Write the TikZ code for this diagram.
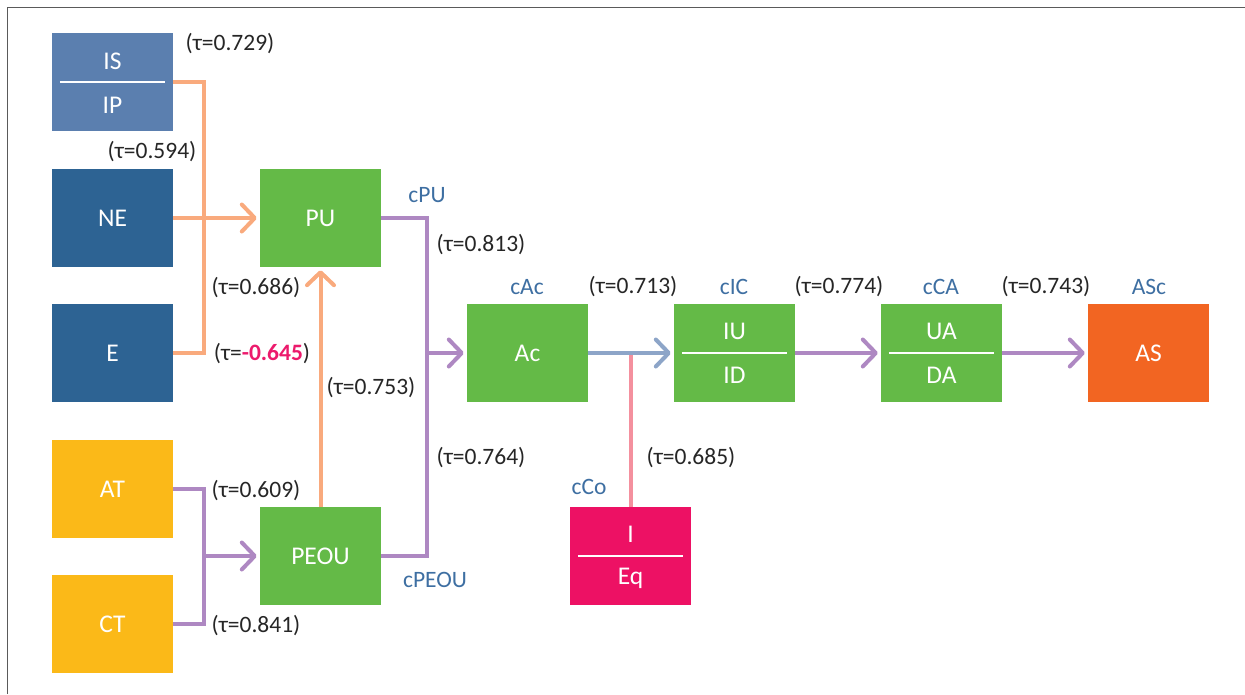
\documentclass[tikz,border=0pt]{standalone}
\usepackage{fontspec}
\setmainfont{Carlito}
\usetikzlibrary{arrows.meta}
\definecolor{bLight}{HTML}{5B7FAF}
\definecolor{bDark}{HTML}{2D6393}
\definecolor{yel}{HTML}{FBB918}
\definecolor{grn}{HTML}{64BA47}
\definecolor{org}{HTML}{F26522}
\definecolor{mag}{HTML}{ED1164}
\definecolor{lOrange}{HTML}{F9AA7D}
\definecolor{lPurple}{HTML}{AE88C2}
\definecolor{lBlue}{HTML}{8DA5C8}
\definecolor{lPink}{HTML}{F4909E}
\definecolor{lblBlue}{HTML}{3E6FA2}
\definecolor{tMag}{HTML}{EC1A6C}
\definecolor{frameGray}{HTML}{5A5A5A}
\tikzset{
  box/.style={rectangle, minimum width=121pt, minimum height=98pt, inner sep=0pt, draw=none, text=white, font=\fontsize{25.5}{28}\selectfont},
  boxtxt/.style={text=white, inner sep=0pt, font=\fontsize{25.5}{28}\selectfont},
  divider/.style={white, line width=1.3pt},
  tau/.style={inner sep=0pt, text=black!85, font=\fontsize{23.5}{26}\selectfont},
  cl/.style={inner sep=0pt, text=lblBlue, font=\fontsize{23.5}{26}\selectfont},
  conn/.style={line width=4pt},
  oline/.style={conn, draw=lOrange},
  pline/.style={conn, draw=lPurple},
  bline/.style={conn, draw=lBlue},
  kline/.style={conn, draw=lPink},
  arr/.style={-{Straight Barb[length=13pt,width=27pt,round]}, shorten >=3pt},
}
\begin{document}
\begin{tikzpicture}[x=1pt,y=-1pt]
\useasboundingbox (0,0) rectangle (1245,694);
% frame
\draw[frameGray, line width=1.6pt] (7.5,694) -- (7.5,7.5) -- (1245,7.5);
% boxes
\node[box, fill=bLight] (ISIP) at (112.5,82) {};
\node[boxtxt] (ISt) at ([yshift=21pt]ISIP.center) {IS};
\node[boxtxt] (IPt) at ([yshift=-23pt]ISIP.center) {IP};
\draw[divider] ([xshift=8pt]ISIP.west) -- ([xshift=-8pt]ISIP.east);
\node[box, fill=bDark] (NE) at (112.5,218) {NE};
\node[box, fill=bDark] (E) at (112.5,353) {E};
\node[box, fill=yel] (AT) at (112.5,489) {AT};
\node[box, fill=yel] (CT) at (112.5,624) {CT};
\node[box, fill=grn] (PU) at (320.5,218) {PU};
\node[box, fill=grn] (PEOU) at (320.5,556) {PEOU};
\node[box, fill=grn] (Ac) at (527.5,353) {Ac};
\node[box, fill=grn] (IC) at (734.5,353) {};
\node[boxtxt] (IUt) at ([yshift=22pt]IC.center) {IU};
\node[boxtxt] (IDt) at ([yshift=-22pt]IC.center) {ID};
\draw[divider] ([xshift=8pt]IC.west) -- ([xshift=-8pt]IC.east);
\node[box, fill=grn] (CA) at (941.5,353) {};
\node[boxtxt] (UAt) at ([yshift=22pt]CA.center) {UA};
\node[boxtxt] (DAt) at ([yshift=-22pt]CA.center) {DA};
\draw[divider] ([xshift=8pt]CA.west) -- ([xshift=-8pt]CA.east);
\node[box, fill=org] (AS) at (1148.5,353) {AS};
\node[box, fill=mag] (IEq) at (630.5,556) {};
\node[boxtxt] (It) at ([yshift=22pt]IEq.center) {I};
\node[boxtxt] (Eqt) at ([yshift=-22pt]IEq.center) {Eq};
\draw[divider] ([xshift=8pt]IEq.west) -- ([xshift=-8pt]IEq.east);
% junction coordinates
\coordinate (oj) at (204,218);
\coordinate (pj) at (427,353);
\coordinate (aj) at (204,556);
% orange connectors
\draw[oline] (ISIP.east) -| (oj) |- (E.east);
\draw[oline, arr] (NE.east) -- (PU.west);
\draw[oline, arr] (PEOU.north) -- (PU.south);
% purple connectors
\draw[pline] (PU.east) -| (pj) |- (PEOU.east);
\draw[pline, arr] (pj) -- (Ac.west);
\draw[pline] (AT.east) -| (aj) |- (CT.east);
\draw[pline, arr] (aj) -- (PEOU.west);
% moderator
\draw[kline] (IEq.north) -- (IEq.north |- Ac.east);
\draw[bline, arr] (Ac.east) -- (IC.west);
\draw[pline, arr] (IC.east) -- (CA.west);
\draw[pline, arr] (CA.east) -- (AS.west);
% tau labels
\node[tau] (t1) at (230,44) {(τ=0.729)};
\node[tau] (t2) at (152,152) {(τ=0.594)};
\node[tau] (t3) at (481,245) {(τ=0.813)};
\node[tau] (t4) at (256,288) {(τ=0.686)};
\node[tau] (t5) at (262,354) {(τ=\textcolor{tMag}{\bfseries -0.645})};
\node[tau] (t6) at (371,388) {(τ=0.753)};
\node[tau] (t7) at (481,458) {(τ=0.764)};
\node[tau] (t8) at (256,491) {(τ=0.609)};
\node[tau] (t9) at (256,626) {(τ=0.841)};
\node[tau] (t10) at (633,287) {(τ=0.713)};
\node[tau] (t11) at (839,287) {(τ=0.774)};
\node[tau] (t12) at (1046,287) {(τ=0.743)};
\node[tau] (t13) at (691,458) {(τ=0.685)};
% construct labels
\node[cl] (cPU) at (427,195) {cPU};
\node[cl] (cPEOU) at (435,580) {cPEOU};
\node[cl] (cAc) at (527,287) {cAc};
\node[cl] (cIC) at (734,287) {cIC};
\node[cl] (cCA) at (941,287) {cCA};
\node[cl] (ASc) at (1149,287) {ASc};
\node[cl] (cCo) at (589,487) {cCo};
\end{tikzpicture}
\end{document}
